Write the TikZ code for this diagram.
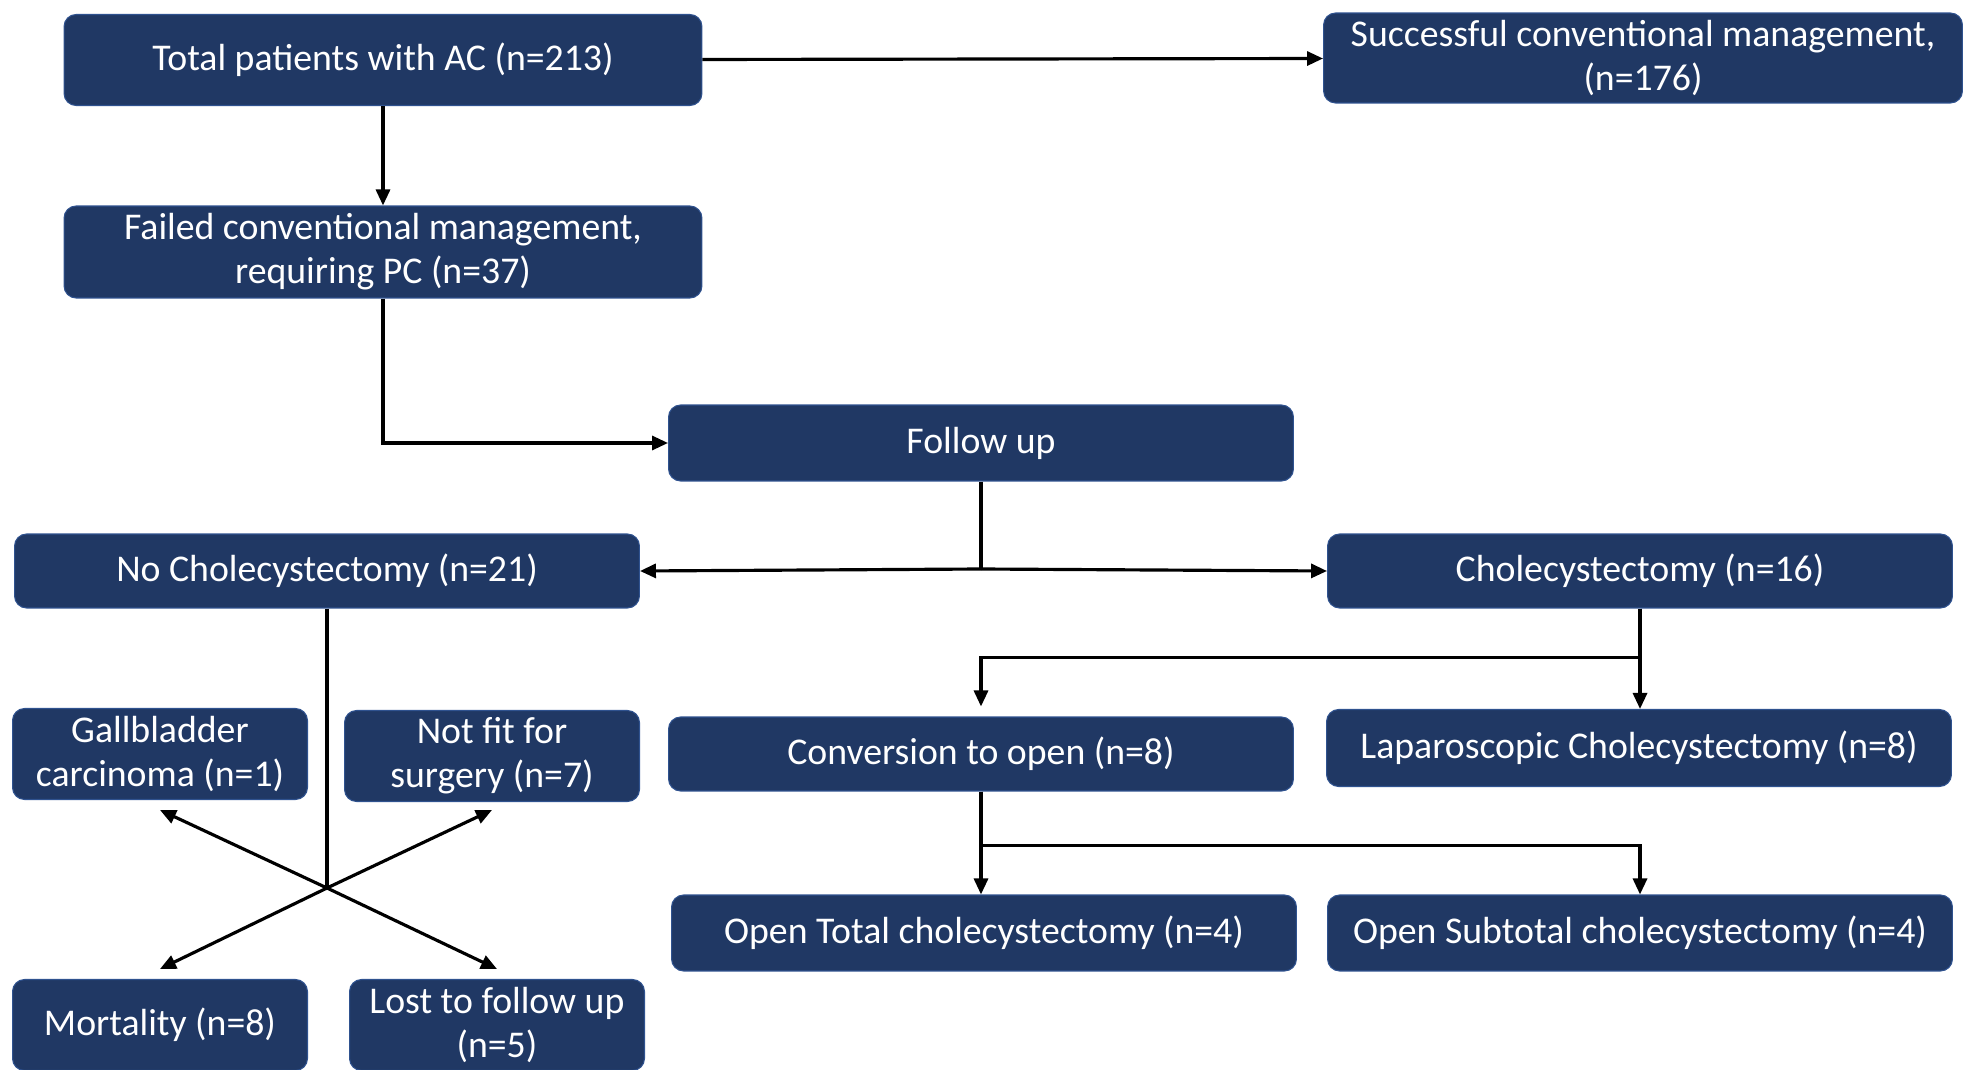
\documentclass[tikz,border=0pt]{standalone}
\usepackage{fontspec}
\setmainfont{Carlito}
\usetikzlibrary{arrows.meta}
\definecolor{boxblue}{HTML}{203864}
\definecolor{edgeblue}{HTML}{2F528F}
\tikzset{
  box/.style={draw=edgeblue, line width=0.6pt, fill=boxblue, text=white,
    rounded corners=0.24cm, align=center, inner sep=0pt,
    font=\fontsize{21.5}{25}\selectfont},
  wide/.style={box, minimum width=12.5cm},
  narrow/.style={box, minimum width=5.9cm, minimum height=1.82cm}
}
\begin{document}
\begin{tikzpicture}[x=0.02cm, y=-0.02cm]
      \useasboundingbox (0,0) rectangle (1973,1070);
      \draw
        (383,60) node[box, minimum width=12.76cm, minimum height=1.82cm] (total){Total patients with AC (n=213)}
        (1643,58) node[box, minimum width=12.78cm, minimum height=1.8cm] (succ){Successful conventional management,\\(n=176)}
        (383,252) node[box, minimum width=12.76cm, minimum height=1.84cm] (failed){Failed conventional management,\\requiring PC (n=37)}
        (981,443) node[wide, minimum height=1.52cm] (follow){Follow up}
        (327,571) node[wide, minimum height=1.48cm] (nochole){No Cholecystectomy (n=21)}
        (1640,571) node[wide, minimum height=1.48cm] (chole){Cholecystectomy (n=16)}
        (160,754) node[narrow] (gall){Gallbladder\\carcinoma (n=1)}
        (492,756) node[narrow] (notfit){Not fit for\\surgery (n=7)}
        (981,754) node[wide, minimum height=1.48cm] (conv){Conversion to open (n=8)}
        (1639,748) node[wide, minimum height=1.54cm] (lap){Laparoscopic Cholecystectomy (n=8)}
        (160,1025) node[narrow] (mort){Mortality (n=8)}
        (497,1025) node[narrow] (lost){Lost to follow up\\(n=5)}
        (984,933) node[wide, minimum height=1.52cm] (opentot){Open Total cholecystectomy (n=4)}
        (1640,933) node[wide, minimum height=1.52cm] (opensub){Open Subtotal cholecystectomy (n=4)};
      \coordinate (split) at (981,569);
      \coordinate (cross) at (327,888);
      \begin{scope}[-{Triangle[length=0.32cm,width=0.28cm]}, line width=1.8pt]
        \draw (total) to (succ);
        \draw (total) to (failed);
        \draw (failed.south) |- (follow.west);
        \draw[-] (follow.south) to (split);
        \draw (split) to (nochole.east);
        \draw (split) to (chole.west);
        \draw[shorten >=0.2cm] (chole.south) -- ++(0,49) -| (conv.north);
        \draw (chole.south) to (chole.south |- lap.north);
        \draw (conv.south) -- ++(0,54) -| (opensub.north);
        \draw (conv.south) to (conv.south |- opentot.north);
        \draw[-] (nochole.south) to (cross);
        \draw (cross) to ([yshift=-0.2cm]gall.south);
        \draw (cross) to ([yshift=-0.16cm]notfit.south);
        \draw (cross) to ([yshift=0.2cm]mort.north);
        \draw (cross) to ([yshift=0.2cm]lost.north);
      \end{scope}
    \end{tikzpicture}
\end{document}
